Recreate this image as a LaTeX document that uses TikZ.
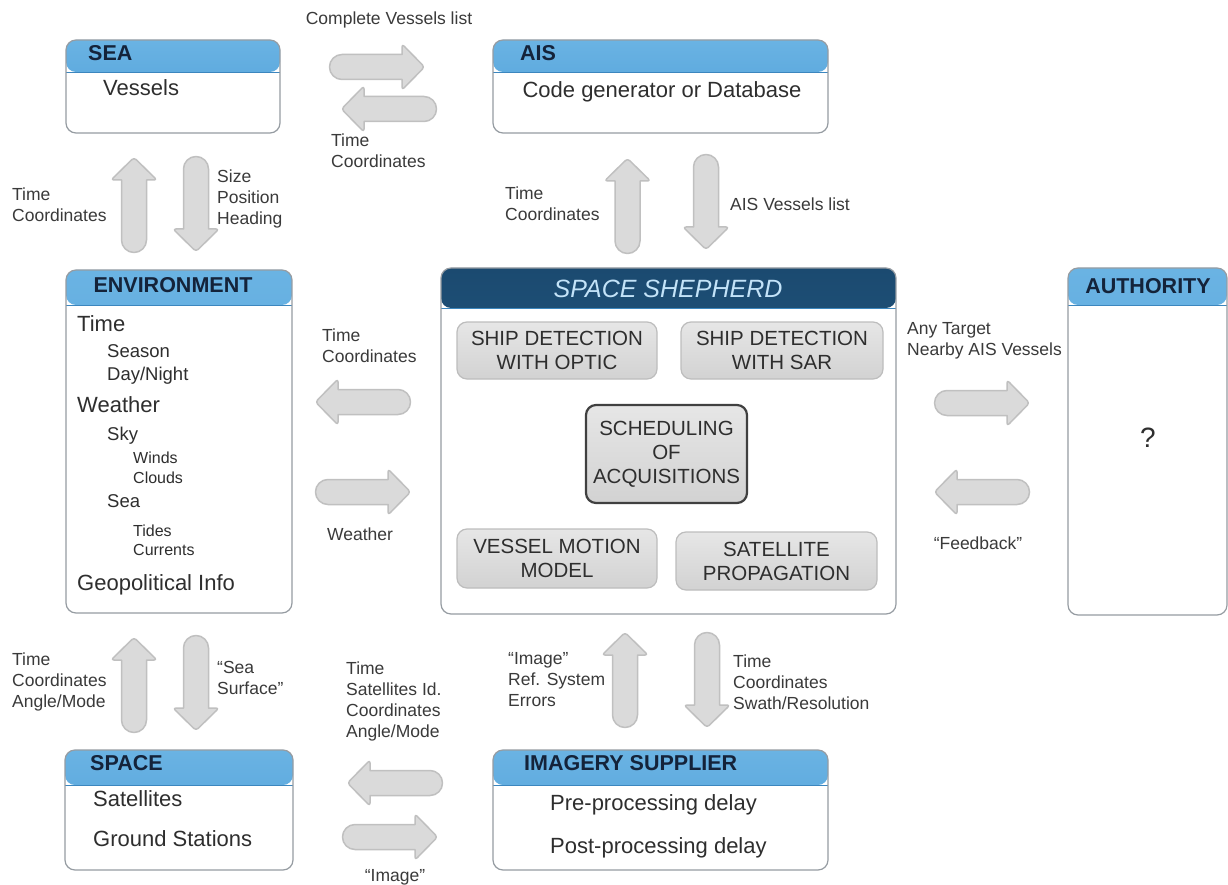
\documentclass[tikz,border=0pt]{standalone}
\usepackage{fontspec}
\setmainfont{Liberation Sans}
\definecolor{boxgray}{HTML}{969CA2}
\definecolor{hdrtop}{HTML}{6AB3E3}
\definecolor{hdrbot}{HTML}{4C9DD8}
\definecolor{hdrline}{HTML}{3C86BE}
\definecolor{hdrtext}{HTML}{14233A}
\definecolor{sstop}{HTML}{1B4A70}
\definecolor{ssbot}{HTML}{2B6A96}
\definecolor{sstext}{HTML}{C3E3F8}
\definecolor{innertop}{HTML}{E6E6E6}
\definecolor{innerbot}{HTML}{D2D2D2}
\definecolor{innerdraw}{HTML}{BDBDBD}
\definecolor{arrfill}{HTML}{DADADA}
\definecolor{arrdraw}{HTML}{C0C0C0}
\definecolor{lbltext}{HTML}{3A3A3A}
\definecolor{boxtext}{HTML}{2E2E2E}
\tikzset{
  ubox/.style n args={3}{draw=boxgray, line width=1.2pt, rounded corners=10pt, fill=white,
    inner sep=0pt,
    path picture={\shade[top color=#2, bottom color=#3]
      (path picture bounding box.north west) rectangle
      ([yshift=-#1 pt]path picture bounding box.north east);
      \draw[hdrline, line width=0.8pt] ([yshift=-#1 pt]path picture bounding box.north west) --
      ([yshift=-#1 pt]path picture bounding box.north east);}},
  innerbox/.style={draw=innerdraw, line width=1.2pt, rounded corners=10pt,
    top color=innertop, bottom color=innerbot, inner sep=0pt, align=center,
    text=boxtext, font=\fontsize{20.5}{24}\selectfont},
  hdrlabel/.style={text=hdrtext, font=\fontsize{21.5}{25}\selectfont\bfseries, inner sep=0pt},
  boxlabel/.style={text=boxtext, font=\fontsize{22}{26}\selectfont, inner sep=0pt},
  flowlabel/.style={text=lbltext, font=\fontsize{17.5}{21}\selectfont, align=left, inner sep=0pt},
  envA/.style={text=boxtext, font=\fontsize{22}{26}\selectfont, inner sep=0pt, anchor=mid west},
  envB/.style={text=boxtext, font=\fontsize{18.5}{22}\selectfont, inner sep=0pt, anchor=mid west},
  envC/.style={text=boxtext, font=\fontsize{16}{19}\selectfont, inner sep=0pt, anchor=mid west},
  blockarrow/.pic={
    \path[fill=arrfill, draw=arrdraw, line width=1.5pt, line join=round]
      (-35,12.5) -- (25,12.5) [rounded corners=3pt] -- (25,23) -- (47.5,0) -- (25,-23) [sharp corners] -- (25,-12.5) -- (-35,-12.5)
      arc[start angle=270, end angle=90, radius=12.5] -- cycle;
  }
}
\begin{document}
\begin{tikzpicture}[x=1pt,y=-1pt]
\useasboundingbox (0,0) rectangle (1228,885);
\fill[white] (0,0) rectangle (1228,885);

% ---------- boxes ----------
\node[ubox={32}{hdrtop}{hdrbot}, minimum width=214pt, minimum height=93pt] (sea) at (173,86.5) {};
\node[ubox={32}{hdrtop}{hdrbot}, minimum width=335pt, minimum height=93pt] (ais) at (660.5,86.5) {};
\node[ubox={35}{hdrtop}{hdrbot}, minimum width=226pt, minimum height=343pt] (env) at (179,441.5) {};
\node[ubox={40}{sstop}{ssbot}, minimum width=455pt, minimum height=346pt] (ss) at (668.5,441) {};
\node[ubox={37}{hdrtop}{hdrbot}, minimum width=159pt, minimum height=347pt] (auth) at (1147.5,441.5) {};
\node[ubox={35}{hdrtop}{hdrbot}, minimum width=228pt, minimum height=120pt] (space) at (179,810) {};
\node[ubox={35}{hdrtop}{hdrbot}, minimum width=335pt, minimum height=120pt] (img) at (660.5,810) {};

% ---------- headers ----------
\node[hdrlabel, anchor=mid west] (seaH) at (88,58) {SEA};
\node[hdrlabel, anchor=mid west] (aisH) at (520,58) {AIS};
\node[hdrlabel] (envH) at (173,285) {ENVIRONMENT};
\node[text=sstext, font=\fontsize{25}{29}\selectfont\itshape, inner sep=0pt] (ssH) at (668,289) {SPACE SHEPHERD};
\node[hdrlabel] (authH) at (1148,286) {AUTHORITY};
\node[hdrlabel, anchor=mid west] (spaceH) at (90,768) {SPACE};
\node[hdrlabel, anchor=mid west] (imgH) at (524,768) {IMAGERY SUPPLIER};

% ---------- box contents ----------
\node[boxlabel, anchor=mid west] (seaV) at (103,93) {Vessels};
\node[boxlabel] (aisC) at (662,92) {Code generator or Database};
\node[text=boxtext, font=\fontsize{28}{32}\selectfont, inner sep=0pt] (q) at (1148,438) {?};
\node[boxlabel, anchor=mid west] (sat) at (93,804) {Satellites};
\node[boxlabel, anchor=mid west] (gs) at (93,844) {Ground Stations};
\node[boxlabel, anchor=mid west] (pre) at (550,808) {Pre-processing delay};
\node[boxlabel, anchor=mid west] (post) at (550,851) {Post-processing delay};

\node[envA] (eTime) at (77,329) {Time};
\node[envB] (eSeason) at (107,355) {Season};
\node[envB] (eDay) at (107,378) {Day/Night};
\node[envA] (eWeather) at (77,410) {Weather};
\node[envB] (eSky) at (107,438) {Sky};
\node[envC] (eWinds) at (133,461) {Winds};
\node[envC] (eClouds) at (133,481) {Clouds};
\node[envB] (eSea) at (107,505) {Sea};
\node[envC] (eTides) at (133,534) {Tides};
\node[envC] (eCurr) at (133,553) {Currents};
\node[envA] (eGeo) at (77,588) {Geopolitical Info};

% ---------- Space Shepherd inner boxes ----------
\node[innerbox, minimum width=200pt, minimum height=57pt] (optic) at (557,350.5) {SHIP DETECTION\\WITH OPTIC};
\node[innerbox, minimum width=202pt, minimum height=57pt] (sar) at (782,350.5) {SHIP DETECTION\\WITH SAR};
\node[innerbox, draw=black!75, line width=2.2pt, minimum width=161pt, minimum height=98pt] (sched) at (666.5,454) {SCHEDULING\\OF\\ACQUISITIONS};
\node[innerbox, minimum width=200pt, minimum height=59pt] (motion) at (557,558.5) {VESSEL MOTION\\MODEL};
\node[innerbox, minimum width=201pt, minimum height=58pt] (prop) at (776.5,561) {SATELLITE\\PROPAGATION};

% ---------- block arrows ----------
\pic at (377,67) {blockarrow};
\pic[rotate=180] at (389,109) {blockarrow};
\pic[rotate=90] at (134,205) {blockarrow};
\pic[rotate=-90] at (196,204) {blockarrow};
\pic[rotate=90] at (627.5,206) {blockarrow};
\pic[rotate=-90] at (706,202) {blockarrow};
\pic[rotate=180] at (363,402) {blockarrow};
\pic at (363,492) {blockarrow};
\pic at (982,403) {blockarrow};
\pic[rotate=180] at (982,492) {blockarrow};
\pic[rotate=90] at (134,685) {blockarrow};
\pic[rotate=-90] at (196,683) {blockarrow};
\pic[rotate=180] at (395,783) {blockarrow};
\pic at (390,837) {blockarrow};
\pic[rotate=90] at (625,680) {blockarrow};
\pic[rotate=-90] at (707,680) {blockarrow};

% ---------- flow labels ----------
\node[flowlabel] (l1) at (389,20) {Complete Vessels list};
\node[flowlabel, anchor=west] (l2) at (331,151) {Time\\Coordinates};
\node[flowlabel, anchor=west] (l3) at (12,205) {Time\\Coordinates};
\node[flowlabel, anchor=west] (l4) at (217,199) {Size\\Position\\Heading};
\node[flowlabel, anchor=west] (l5) at (505,204) {Time\\Coordinates};
\node[flowlabel, anchor=mid west] (l6) at (730,208) {AIS Vessels list};
\node[flowlabel, anchor=west] (l7) at (322,346) {Time\\Coordinates};
\node[flowlabel, anchor=mid west] (l8) at (327,538) {Weather};
\node[flowlabel, anchor=west] (l9) at (907,341) {Any Target\\Nearby AIS Vessels};
\node[flowlabel] (l10) at (978,543) {“Feedback”};
\node[flowlabel, anchor=west] (l11) at (12,682) {Time\\Coordinates\\Angle/Mode};
\node[flowlabel, anchor=west] (l12) at (217,678) {“Sea\\Surface”};
\node[flowlabel, anchor=west] (l13) at (346,701) {Time\\Satellites Id.\\Coordinates\\Angle/Mode};
\node[flowlabel] (l14) at (395,877) {“Image”};
\node[flowlabel, anchor=west] (l15) at (508,680) {“Image”\\Ref. System\\Errors};
\node[flowlabel, anchor=west] (l16) at (733,682) {Time\\Coordinates\\Swath/Resolution};
\end{tikzpicture}
\end{document}
